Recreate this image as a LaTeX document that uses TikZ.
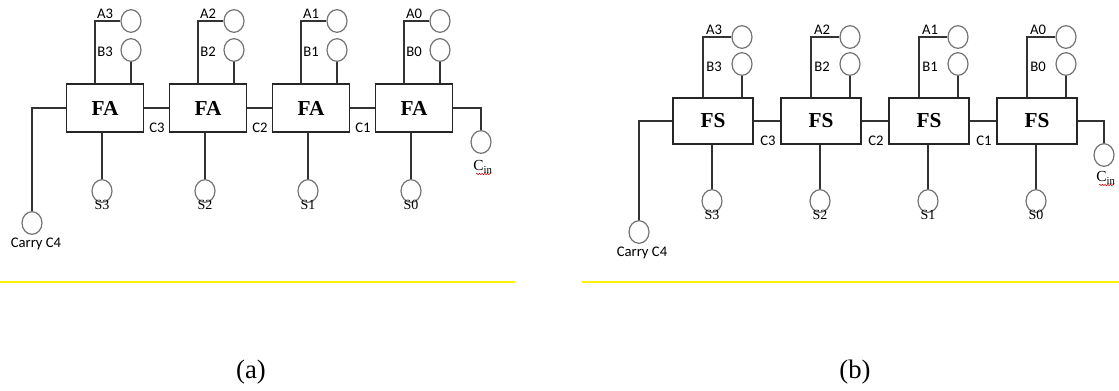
\documentclass[tikz,border=0pt]{standalone}
\usepackage{fontspec}
\setmainfont{Liberation Serif}
\newfontfamily\labfont{Carlito}
\usetikzlibrary{shapes.geometric,decorations.pathmorphing}

\tikzset{
  adder/.style={draw=black!85,line width=0.9pt,inner sep=0pt,font=\fontsize{16}{17}\selectfont\bfseries},
  port/.style={ellipse,draw=black!55,line width=0.9pt,minimum width=15pt,minimum height=17pt,inner sep=0pt},
  wire/.style={line width=0.9pt,black!80},
  pin/.style={font=\labfont\fontsize{11}{12}\selectfont,inner sep=0pt},
  sum/.style={font=\fontsize{10.5}{11}\selectfont,inner sep=0pt},
  squiggle/.style={red!80!black,line width=0.4pt,decorate,decoration={snake,amplitude=0.5pt,segment length=2pt}},
}

\begin{document}
\begin{tikzpicture}[x=0.75pt,y=-0.75pt]
\useasboundingbox (0,0) rectangle (1119,390);
% (a) adder chain
\foreach \k/\n in {0/3,1/2,2/1,3/0}{
  \node[adder,minimum width=57.75pt,minimum height=36pt] (fa\n) at (105+103*\k,108) {FA};
  \node[port] (aa\n) at (131+103*\k,21) {};
  \node[port] (ba\n) at (131+103*\k,50) {};
  \node[port] (sa\n) at (102+103*\k,191) {};
  \node[pin] (la\n) at (105+103*\k,14) {A\n};
  \node[pin] (lb\n) at (105+103*\k,52) {B\n};
  \node[sum] (ls\n) at (102+103*\k,205) {S\n};
  \draw[wire] (aa\n.west) -| ([xshift=-7.5pt]fa\n.north);
  \draw[wire] (ba\n) -- (ba\n |- fa\n.north);
  \draw[wire] (sa\n) -- (sa\n |- fa\n.south);
}
\foreach \n/\m/\k in {3/2/0,2/1/1,1/0/2}{
  \draw[wire] (fa\n) -- (fa\m);
  \node[pin] (lca\n) at (157+103*\k,128) {C\n};
}
\node[port] (carrya) at (32,223) {};
\node[pin] (lcarrya) at (36,244) {Carry C4};
\draw[wire] (fa3) -| (carrya);
\node[port] (cina) at (481,142) {};
\node[sum,font=\fontsize{11.5}{12}\selectfont] (lcina) at (483,167) {C\textsubscript{in}};
\draw[wire] (fa0) -| (cina);
\draw[squiggle] (476,174) -- (491,174);

% (b) subtractor chain
\foreach \k/\n in {0/3,1/2,2/1,3/0}{
  \node[adder,minimum width=60pt,minimum height=34.5pt] (fs\n) at (713+108*\k,121) {FS};
  \node[port] (ab\n) at (742+108*\k,37) {};
  \node[port] (bb\n) at (742+108*\k,64) {};
  \node[port] (sb\n) at (712+108*\k,201) {};
  \node[pin] (ma\n) at (714+108*\k,30) {A\n};
  \node[pin] (mb\n) at (714+108*\k,67) {B\n};
  \node[sum] (ms\n) at (712+108*\k,215) {S\n};
  \draw[wire] (ab\n.west) -| ([xshift=-7.5pt]fs\n.north);
  \draw[wire] (bb\n) -- (bb\n |- fs\n.north);
  \draw[wire] (sb\n) -- (sb\n |- fs\n.south);
}
\foreach \n/\m/\k in {3/2/0,2/1/1,1/0/2}{
  \draw[wire] (fs\n) -- (fs\m);
  \node[pin] (lcb\n) at (768+108*\k,141) {C\n};
}
\node[port] (carryb) at (639,232) {};
\node[pin] (lcarryb) at (642,253) {Carry C4};
\draw[wire] (fs3) -| (carryb);
\node[port] (cinb) at (1104,155) {};
\node[sum,font=\fontsize{11.5}{12}\selectfont] (lcinb) at (1106,178) {C\textsubscript{in}};
\draw[wire] (fs0) -| (cinb);
\draw[squiggle] (1099,185) -- (1114,185);

% baselines and captions
\draw[yellow,line width=1.2pt] (0,282) -- (515,282);
\draw[yellow,line width=1.2pt] (582,282) -- (1119,282);
\node[font=\fontsize{20}{22}\selectfont] (capa) at (251,372) {(a)};
\node[font=\fontsize{20}{22}\selectfont] (capb) at (855,372) {(b)};
\end{tikzpicture}
\end{document}
